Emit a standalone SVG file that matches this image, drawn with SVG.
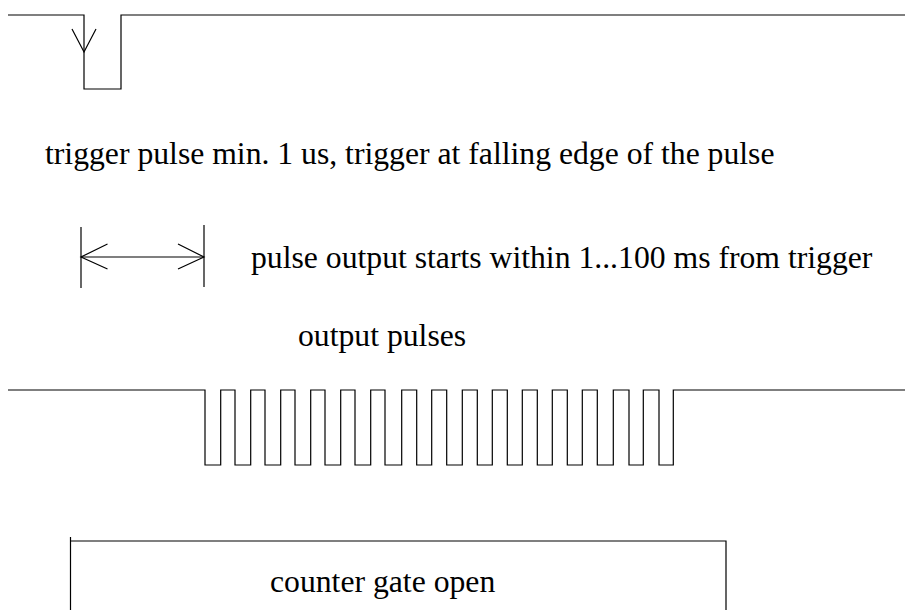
<svg xmlns="http://www.w3.org/2000/svg" width="906" height="610" viewBox="0 0 906 610">
<style>
.ln{fill:none;stroke:#000;stroke-width:1.2;stroke-linejoin:miter}
.tx{font-family:"Liberation Serif","Times New Roman",serif;font-size:31.7px;fill:#000}
</style>
<rect width="906" height="610" fill="#fff"/>
<g id="trigger-signal">
<path class="ln" d="M8,15 H84 V89 H121 V15 H905"/>
<polyline class="ln" points="72,29 84,52 96,29"/>
</g>
<g id="trigger-label"><text class="tx" x="45" y="164">trigger pulse min. 1 us, trigger at falling edge of the pulse</text></g>
<g id="delay-marker">
<line class="ln" x1="81" y1="227" x2="81" y2="288"/>
<line class="ln" x1="204" y1="225" x2="204" y2="287"/>
</g>
<g id="connectors">
<line class="ln" x1="81" y1="257" x2="204" y2="257"/>
<polyline class="ln" points="107.5,244 81,257 107.5,269"/>
<polyline class="ln" points="178,244 204,257 178,269"/>
</g>
<g id="delay-label"><text class="tx" x="251" y="268">pulse output starts within 1...100 ms from trigger</text></g>
<g id="output-label"><text class="tx" x="298" y="346">output pulses</text></g>
<g id="output-pulses">
<path class="ln" d="M8,390 H205 V465 H220.7 V390 H235 V465 H250.7 V390 H265 V465 H280.7 V390 H295 V465 H310.7 V390 H325 V465 H340.7 V390 H355 V465 H370.7 V390 H385 V465 H401.7 V390 H416.7 V465 H431.7 V390 H446.7 V465 H462.3 V390 H477.3 V465 H492.3 V390 H507.3 V465 H522.3 V390 H537.3 V465 H552.3 V390 H567.3 V465 H582.3 V390 H597.3 V465 H613.3 V390 H629 V465 H643.3 V390 H659 V465 H673.3 V390 H905"/>
</g>
<g id="counter-gate">
<path class="ln" d="M70.5,537 V610 M70.5,541 H726 V610"/>
<text class="tx" x="270" y="592">counter gate open</text>
</g>
</svg>
